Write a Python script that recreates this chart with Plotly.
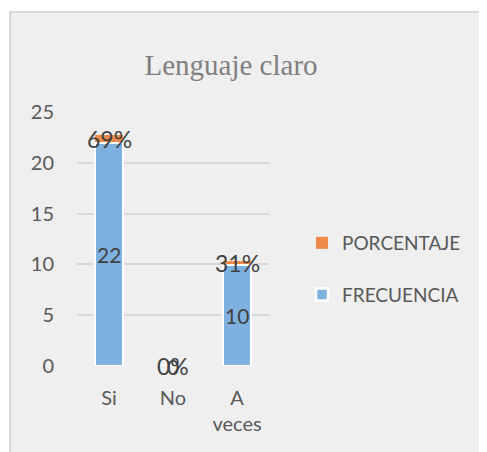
import plotly.graph_objects as go

categories = ["Si", "No", "A<br>veces"]
frecuencia = [22, 0, 10]
porcentaje = [0.69, 0.0, 0.31]
pct_labels = ["69%", "0%", "31%"]
y_ticks = [0, 5, 10, 15, 20, 25]

W, H = 487, 452
OFF = 8  # page body margin
ML, MT = 77 - OFF, 112 - OFF
MR = W - (269 - OFF)
MB = H - (366 - OFF)
PW = W - ML - MR
PH = H - MT - MB

def px_x(p):
    return (p - OFF - ML) / PW

def px_y(p):
    return (H - MB - (p - OFF)) / PH

FONT = "Lato"
TXT = "#404040"
TICK = "#595959"

fig = go.Figure()
fig.add_trace(go.Bar(
    x=categories, y=frecuencia, name="FRECUENCIA",
    marker=dict(color="#7fb1e0", line=dict(color="white", width=2.5)),
    legendgroup="f", legendrank=2, hoverinfo="skip",
))
fig.add_trace(go.Bar(
    x=categories, y=porcentaje, name="PORCENTAJE",
    marker=dict(color="#f08a4b", line=dict(color="white", width=0)),
    legendgroup="p", legendrank=1, hoverinfo="skip",
))

for c, f, p, lab in zip(categories, frecuencia, porcentaje, pct_labels):
    fig.add_annotation(x=c, y=f / 2, text=str(f), showarrow=False,
                       yanchor="middle", font=dict(family=FONT, size=21, color=TXT))
    fig.add_annotation(x=c, y=f + p / 2, text=lab, showarrow=False,
                       yanchor="middle", font=dict(family=FONT, size=23, color=TXT))

fig.add_shape(type="rect", xref="paper", yref="paper",
              x0=px_x(10), x1=px_x(W + 30), y0=px_y(H + 30), y1=px_y(12),
              fillcolor="#efefef", line=dict(color="#d9d9d9", width=2),
              layer="below")

fig.update_layout(
    width=W, height=H,
    margin=dict(l=ML, r=MR, t=MT, b=MB, autoexpand=False),
    paper_bgcolor="white", plot_bgcolor="rgba(0,0,0,0)",
    barmode="stack", bargap=0.56,
    showlegend=True,
    title=dict(text="Lenguaje claro", xref="container", yref="container",
               x=(231 - OFF) / W, y=1 - (65 - OFF) / H,
               xanchor="center", yanchor="middle",
               font=dict(family="Liberation Serif", size=29, color="#7f7f7f")),
    legend=dict(x=px_x(302), y=px_y(224), xanchor="left", yanchor="top",
                traceorder="grouped", tracegroupgap=24,
                bgcolor="rgba(0,0,0,0)",
                font=dict(family=FONT, size=19, color=TICK)),
    xaxis=dict(showgrid=False, showline=False, zeroline=False, automargin=False,
               tickfont=dict(family=FONT, size=20, color=TICK),
               ticklabelstandoff=18),
    yaxis=dict(range=[0, 25], tickvals=y_ticks, showgrid=True, automargin=False,
               gridcolor="#d9d9d9", gridwidth=1.5, zeroline=False,
               showline=False,
               tickfont=dict(family=FONT, size=20, color=TICK),
               ticklabelstandoff=22),
    font=dict(family=FONT),
)

fig.write_html("out.html")
